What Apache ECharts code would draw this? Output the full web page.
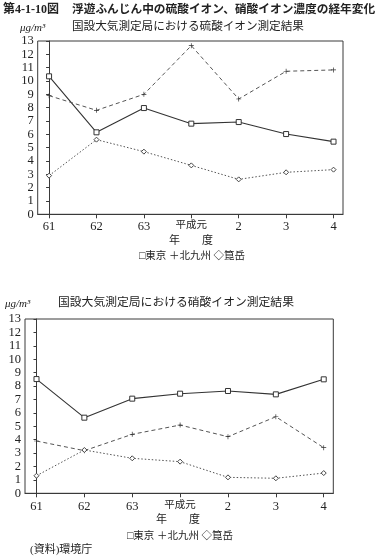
<!DOCTYPE html>
<html><head><meta charset="utf-8">
<script src="https://cdn.jsdelivr.net/npm/echarts@6/dist/echarts.min.js"></script>
<style>html,body{margin:0;padding:0;background:#fff}#c{width:381px;height:558px}</style>
</head><body><div id="c"></div>
<script>
const categories = ['61','62','63','平成元','2','3','4'];
const yTicks = [0,1,2,3,4,5,6,7,8,9,10,11,12,13];
// 硫酸イオン (μg/m³)
const so4Tokyo = [10.35, 6.15, 7.97, 6.8, 6.92, 6.02, 5.45];
const so4Kitakyushu = [8.9, 7.8, 9.0, 12.65, 8.65, 10.73, 10.83];
const so4Nodake = [2.9, 5.6, 4.7, 3.67, 2.62, 3.15, 3.35];
// 硝酸イオン (μg/m³)
const no3Tokyo = [8.52, 5.64, 7.06, 7.43, 7.63, 7.38, 8.5];
const no3Kitakyushu = [3.9, 3.18, 4.4, 5.09, 4.22, 5.71, 3.4];
const no3Nodake = [1.31, 3.23, 2.61, 2.36, 1.19, 1.12, 1.51];

const FONT = '"Liberation Serif", "Noto Sans CJK JP", serif';
const INK = '#222';
const LINE = '#3a3a3a';
const catIdx = categories.map((_, i) => i);
const pairs = arr => arr.map((v, i) => [i, v]);

function xAxis(gridIndex, margin) {
  return {
    type: 'value', gridIndex, min: -0.24, max: 6.2,
    splitLine: {show: false},
    axisLine: {show: true, lineStyle: {color: LINE, width: 1}},
    axisTick: {show: true, customValues: catIdx, length: 4, inside: false, lineStyle: {color: LINE}},
    axisLabel: {customValues: catIdx, color: INK, fontFamily: FONT, fontSize: 12.5, margin,
      formatter: v => { const s = categories[Math.round(v)]; return /^\d+$/.test(s) ? '{d|' + s + '}' : '{j|' + s + '}'; },
      rich: {d: {fontSize: 12.5, fontFamily: FONT, color: INK, lineHeight: 14, verticalAlign: 'top'},
             j: {fontSize: 10.5, fontFamily: FONT, color: INK, lineHeight: 14, verticalAlign: 'top'}}}
  };
}
function yAxis(gridIndex) {
  return {
    type: 'value', gridIndex, min: 0, max: 13, interval: 1,
    splitLine: {show: false},
    axisLine: {show: true, lineStyle: {color: LINE, width: 1}},
    axisTick: {show: true, length: 3, lineStyle: {color: LINE}},
    axisLabel: {color: INK, fontFamily: FONT, fontSize: 12.5, margin: 4,
      formatter: v => String(yTicks[v])}
  };
}
const plus = 'path://M4.3,0H5.7V10H4.3ZM0,4.3H10V5.7H0Z';
function series(idx, data, kind) {
  const base = {type: 'line', xAxisIndex: idx, yAxisIndex: idx, data: pairs(data), silent: true,
    animation: false, showAllSymbol: true};
  if (kind === 't') return Object.assign(base, {symbol: 'rect', symbolSize: 5,
    lineStyle: {color: '#333', width: 1.1, type: 'solid'},
    itemStyle: {color: '#fff', borderColor: '#333', borderWidth: 1}});
  if (kind === 'k') return Object.assign(base, {symbol: plus, symbolSize: 5,
    lineStyle: {color: '#555', width: 1, type: [4, 3]},
    itemStyle: {color: '#333'}});
  return Object.assign(base, {symbol: 'diamond', symbolSize: 5,
    lineStyle: {color: '#555', width: 1, type: [1.5, 2]},
    itemStyle: {color: '#fff', borderColor: '#444', borderWidth: 1}});
}
const txt = (x, y, text, size, extra) => Object.assign({type: 'text', x, y,
  style: Object.assign({text, fontSize: size, fontFamily: FONT, fill: INK, textVerticalAlign: 'middle'}, extra || {})});

const chart = echarts.init(document.getElementById('c'), null, {renderer: 'canvas'});
chart.setOption({
  animation: false,
  backgroundColor: '#fff',
  grid: [
    {left: 37.7, top: 41, width: 305.3, height: 173.3, show: true, borderColor: LINE, borderWidth: 1, backgroundColor: 'transparent'},
    {left: 25, top: 319, width: 308.3, height: 174.3, show: true, borderColor: LINE, borderWidth: 1, backgroundColor: 'transparent'}
  ],
  xAxis: [xAxis(0, 6), xAxis(1, 7)],
  yAxis: [yAxis(0), yAxis(1)],
  series: [
    series(0, so4Tokyo, 't'), series(0, so4Kitakyushu, 'k'), series(0, so4Nodake, 'n'),
    series(1, no3Tokyo, 't'), series(1, no3Kitakyushu, 'k'), series(1, no3Nodake, 'n')
  ],
  graphic: [
    txt(3, 10, '第4-1-10図', 12, {fontWeight: 'bold'}),
    txt(72, 10, '浮遊ふんじん中の硫酸イオン、硝酸イオン濃度の経年変化', 11.7, {fontWeight: 'bold'}),
    txt(20, 28, 'μg/m³', 11, {fontStyle: 'italic'}),
    txt(72, 27, '国設大気測定局における硫酸イオン測定結果', 11.6),
    txt(191, 241, '年　　度', 11, {textAlign: 'center'}),
    txt(192, 256, '□東京 ＋北九州 ◇箟岳', 10.5, {textAlign: 'center'}),
    txt(5, 304, 'μg/m³', 11, {fontStyle: 'italic'}),
    txt(58, 303, '国設大気測定局における硝酸イオン測定結果', 11.8),
    txt(178, 520, '年　　度', 11, {textAlign: 'center'}),
    txt(180, 536, '□東京 ＋北九州 ◇箟岳', 10.5, {textAlign: 'center'}),
    txt(30, 550, '(資料)環境庁', 11)
  ]
});
</script></body></html>
